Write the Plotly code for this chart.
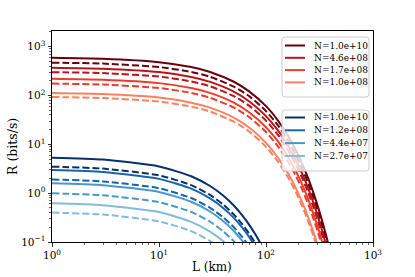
import plotly.graph_objects as go

# ---- data ----
L_red = [1, 3, 10, 20, 30, 50, 70, 100, 130, 160, 190, 220, 250, 280, 310, 340, 370, 400]
red_labels = ["N=1.0e+10", "N=4.6e+08", "N=1.7e+08", "N=1.0e+08"]
red_solid = [
    [590, 563, 480, 381, 303, 191, 120, 60.4, 30.3, 15.2, 7.60, 3.81, 1.91, 0.957, 0.480, 0.240, 0.120, 0.0604],
    [370, 353, 301, 239, 190, 120, 75.5, 37.7, 19.0, 9.51, 4.77, 2.39, 1.20, 0.599, 0.301, 0.151, 0.0755, 0.0377],
    [220, 210, 179, 142, 113, 71.3, 44.9, 22.4, 11.3, 5.65, 2.84, 1.42, 0.713, 0.356, 0.179, 0.0895, 0.0449, 0.0224],
    [112, 107, 90.5, 71.3, 56.3, 35.1, 21.8, 10.7, 5.25, 2.58, 1.27, 0.622, 0.305, 0.150, 0.0736, 0.0361, 0.0177, 0.0087],
]
red_dashed = [
    [470, 449, 382, 304, 241, 152, 95.9, 47.9, 24.1, 12.1, 6.06, 3.04, 1.52, 0.761, 0.382, 0.191, 0.0959, 0.0479],
    [300, 287, 244, 194, 154, 97.2, 61.2, 30.6, 15.4, 7.71, 3.87, 1.94, 0.972, 0.486, 0.244, 0.122, 0.0612, 0.0306],
    [175, 167, 142, 113, 89.8, 56.7, 35.7, 17.9, 8.98, 4.50, 2.26, 1.13, 0.567, 0.284, 0.142, 0.0712, 0.0357, 0.0179],
    [93, 88.7, 75.1, 59.2, 46.8, 29.1, 18.1, 8.89, 4.36, 2.14, 1.05, 0.516, 0.253, 0.125, 0.0611, 0.0299, 0.0147, 0.0072],
]
red_colors = ["#67000d", "#b91419", "#ef3b2c", "#fc8161"]

L_blue = [1, 3, 10, 20, 30, 40, 50, 60, 70, 80, 90, 100]
blue_labels = ["N=1.0e+10", "N=1.2e+08", "N=4.4e+07", "N=2.7e+07"]
blue_solid = [
    [5.33, 4.86, 3.52, 2.22, 1.40, 0.885, 0.560, 0.352, 0.222, 0.140, 0.0885, 0.056],
    [2.97, 2.71, 1.96, 1.24, 0.781, 0.493, 0.312, 0.196, 0.124, 0.0781, 0.0493, 0.031],
    [1.60, 1.46, 1.06, 0.667, 0.421, 0.265, 0.168, 0.105, 0.0667, 0.0421, 0.0265, 0.0168],
    [0.62, 0.565, 0.410, 0.259, 0.163, 0.103, 0.0651, 0.041, 0.026, 0.0163, 0.0103, 0.0065],
]
blue_dashed = [
    [3.49, 3.18, 2.31, 1.46, 0.918, 0.579, 0.366, 0.231, 0.146, 0.0918, 0.0579, 0.0366],
    [1.91, 1.74, 1.26, 0.797, 0.502, 0.317, 0.200, 0.126, 0.0797, 0.0502, 0.0317, 0.02],
    [0.99, 0.903, 0.654, 0.413, 0.260, 0.164, 0.104, 0.0654, 0.0413, 0.026, 0.0164, 0.0104],
    [0.40, 0.365, 0.264, 0.167, 0.105, 0.0664, 0.042, 0.0265, 0.0167, 0.0105, 0.0066, 0.0042],
]
blue_colors = ["#08306b", "#1764ab", "#4a98c9", "#82bbdb"]

x_tick_vals = [1, 10, 100, 1000]
x_tick_text = ["10<sup>0</sup>", "10<sup>1</sup>", "10<sup>2</sup>", "10<sup>3</sup>"]
y_tick_vals = [0.1, 1, 10, 100, 1000]
y_tick_text = ["10<sup>−1</sup>", "10<sup>0</sup>", "10<sup>1</sup>", "10<sup>2</sup>", "10<sup>3</sup>"]

FONT = "DejaVu Serif"
LW = 2.0
DASH = "7px,3px"

W, H = 415, 277
ML, MR, MT, MB = 52, 42, 31, 35
PW, PH = W - ML - MR, H - MT - MB

def px(x):
    return (x - ML) / PW

def py(y):
    return (H - MB - y) / PH

fig = go.Figure()

for L, solids, dashes, colors in [(L_red, red_solid, red_dashed, red_colors),
                                  (L_blue, blue_solid, blue_dashed, blue_colors)]:
    for s, d, c in zip(solids, dashes, colors):
        fig.add_trace(go.Scatter(x=L, y=s, mode="lines", showlegend=False, hoverinfo="skip",
                                 line=dict(color=c, width=LW, shape="spline", smoothing=0.6)))
        fig.add_trace(go.Scatter(x=L, y=d, mode="lines", showlegend=False, hoverinfo="skip",
                                 line=dict(color=c, width=LW, dash=DASH, shape="spline", smoothing=0.6)))

# ---- manual legends (matplotlib style) ----
shapes = []
annotations = []

def rounded_box(x0, x1, top, bottom, r=3):
    X0, X1 = px(x0), px(x1)
    Y0, Y1 = py(bottom), py(top)
    rx, ry = r / PW, r / PH
    return (f"M {X0+rx},{Y1} L {X1-rx},{Y1} Q {X1},{Y1} {X1},{Y1-ry} "
            f"L {X1},{Y0+ry} Q {X1},{Y0} {X1-rx},{Y0} L {X0+rx},{Y0} "
            f"Q {X0},{Y0} {X0},{Y0+ry} L {X0},{Y1-ry} Q {X0},{Y1} {X0+rx},{Y1} Z")

def add_legend(top, bottom, first_row, step, colors, labels):
    shapes.append(dict(type="path", xref="paper", yref="paper", layer="above",
                       path=rounded_box(282, 369, top, bottom),
                       line=dict(color="#cccccc", width=1), fillcolor="rgba(255,255,255,0.8)"))
    for i, (c, lab) in enumerate(zip(colors, labels)):
        yy = first_row + i * step
        shapes.append(dict(type="line", xref="paper", yref="paper", layer="above",
                           x0=px(285), x1=px(305), y0=py(yy), y1=py(yy),
                           line=dict(color=c, width=LW)))
        annotations.append(dict(x=px(312), y=py(yy), xref="paper", yref="paper",
                                text=lab, showarrow=False, xanchor="left", yanchor="middle",
                                font=dict(family=FONT, size=9, color="black")))

add_legend(37, 97, 45.5, 12.3, red_colors, red_labels)
add_legend(110, 171, 117.5, 12.8, blue_colors, blue_labels)

# axis titles
annotations.append(dict(x=px(212), y=py(267), xref="paper", yref="paper", text="L (km)",
                        showarrow=False, xanchor="center", yanchor="middle",
                        font=dict(family=FONT, size=12, color="black")))
annotations.append(dict(x=px(12), y=py(147), xref="paper", yref="paper", text="R (bits/s)",
                        showarrow=False, xanchor="center", yanchor="middle", textangle=-90,
                        font=dict(family=FONT, size=12.5, color="black")))

minor_x = [m * 10 ** k for k in range(0, 3) for m in range(2, 10)]
minor_y = [m * 10 ** k for k in range(-1, 4) for m in range(2, 10)]

axis_common = dict(showgrid=False, zeroline=False, showline=True, linecolor="black",
                   linewidth=1, mirror=True, ticks="outside", ticklen=3.5, tickwidth=0.8,
                   tickcolor="black", automargin=False,
                   tickfont=dict(family=FONT, size=10.5, color="black"))

fig.update_xaxes(type="log", range=[0, 3], tickvals=x_tick_vals, ticktext=x_tick_text,
                 minor=dict(tickvals=minor_x, ticks="outside", ticklen=2, tickwidth=0.6, tickcolor="black"),
                 **axis_common)
fig.update_yaxes(type="log", range=[-1, 3.32], tickvals=y_tick_vals, ticktext=y_tick_text,
                 minor=dict(tickvals=minor_y, ticks="outside", ticklen=2, tickwidth=0.6, tickcolor="black"),
                 **axis_common)

fig.update_layout(
    width=W, height=H, autosize=False,
    margin=dict(l=ML, r=MR, t=MT, b=MB, pad=0, autoexpand=False),
    paper_bgcolor="white", plot_bgcolor="white",
    showlegend=False, hovermode=False,
    shapes=shapes, annotations=annotations,
    font=dict(family=FONT),
)

fig.write_html("out.html",
               config={"displayModeBar": False, "staticPlot": True},
               post_script="document.body.style.margin='0';document.body.style.overflow='hidden';")
